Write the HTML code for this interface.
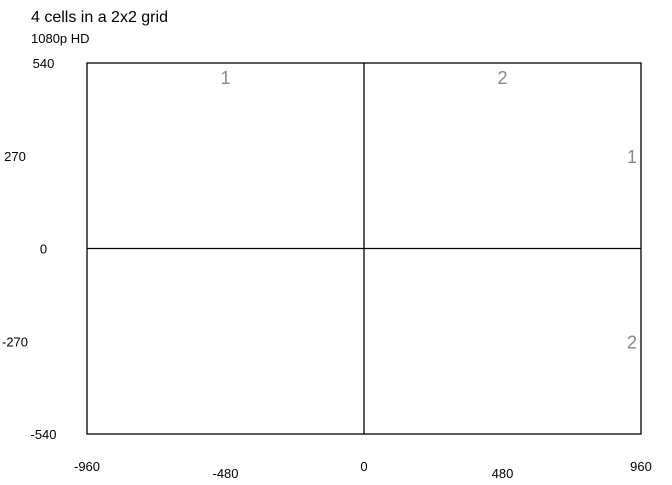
<!DOCTYPE html>
<html><head><meta charset="utf-8"><style>
body{margin:0;background:#fff;font-family:"Liberation Sans",Arial,sans-serif}
svg text{font-family:"Liberation Sans",Arial,sans-serif}
</style></head><body>
<svg id="c" width="672" height="480">
<text x="31" y="22" font-size="16" fill="#000">4 cells in a 2x2 grid</text>
<text x="31" y="43" font-size="13" fill="#000">1080p HD</text>
<g id="g"></g>
</svg>
<script>
const xTicks=[-960,-480,0,480,960];
const yTicks=[540,270,0,-270,-540];
const colLabels=["1","2"];
const rowLabels=["1","2"];
const xMin=-960,xMax=960,yMin=-540,yMax=540;
const L=87,R=641,T=63,B=434;
const sx=v=>L+(v-xMin)/(xMax-xMin)*(R-L);
const sy=v=>B-(v-yMin)/(yMax-yMin)*(B-T);
const g=document.getElementById('g');
const NS='http://www.w3.org/2000/svg';
function mk(t,a){const e=document.createElementNS(NS,t);for(const k in a)e.setAttribute(k,a[k]);g.appendChild(e);return e;}
let e=mk('rect',{x:sx(xMin),y:sy(yMax),width:sx(xMax)-sx(xMin),height:sy(yMin)-sy(yMax),fill:'none',stroke:'#000','stroke-width':1.3});


e=mk('line',{x1:sx(0),x2:sx(0),y1:sy(yMax),y2:sy(yMin),stroke:'#000','stroke-width':1.3});


e=mk('line',{x1:sx(xMin),x2:sx(xMax),y1:sy(0),y2:sy(0),stroke:'#000','stroke-width':1.3});


xTicks.forEach((v,i)=>{const t=mk('text',{x:sx(v),y:i%2?478:471,'font-size':13,'text-anchor':'middle'});t.textContent=v;

});
yTicks.forEach((v,i)=>{const t=mk('text',{x:i%2?15:43.5,y:sy(v)+5,'font-size':13,'text-anchor':'middle'});t.textContent=v;

});
colLabels.forEach((s,i)=>{const cx=sx(xMin+(i+0.5)*(xMax-xMin)/2);const t=mk('text',{x:cx,y:84,'font-size':18,fill:'#888','text-anchor':'middle'});t.textContent=s;

});
rowLabels.forEach((s,i)=>{const cy=sy(yMax-(i+0.5)*(yMax-yMin)/2);const t=mk('text',{x:637,y:cy+7,'font-size':18,fill:'#888','text-anchor':'end'});t.textContent=s;

});
</script>
</body></html>
